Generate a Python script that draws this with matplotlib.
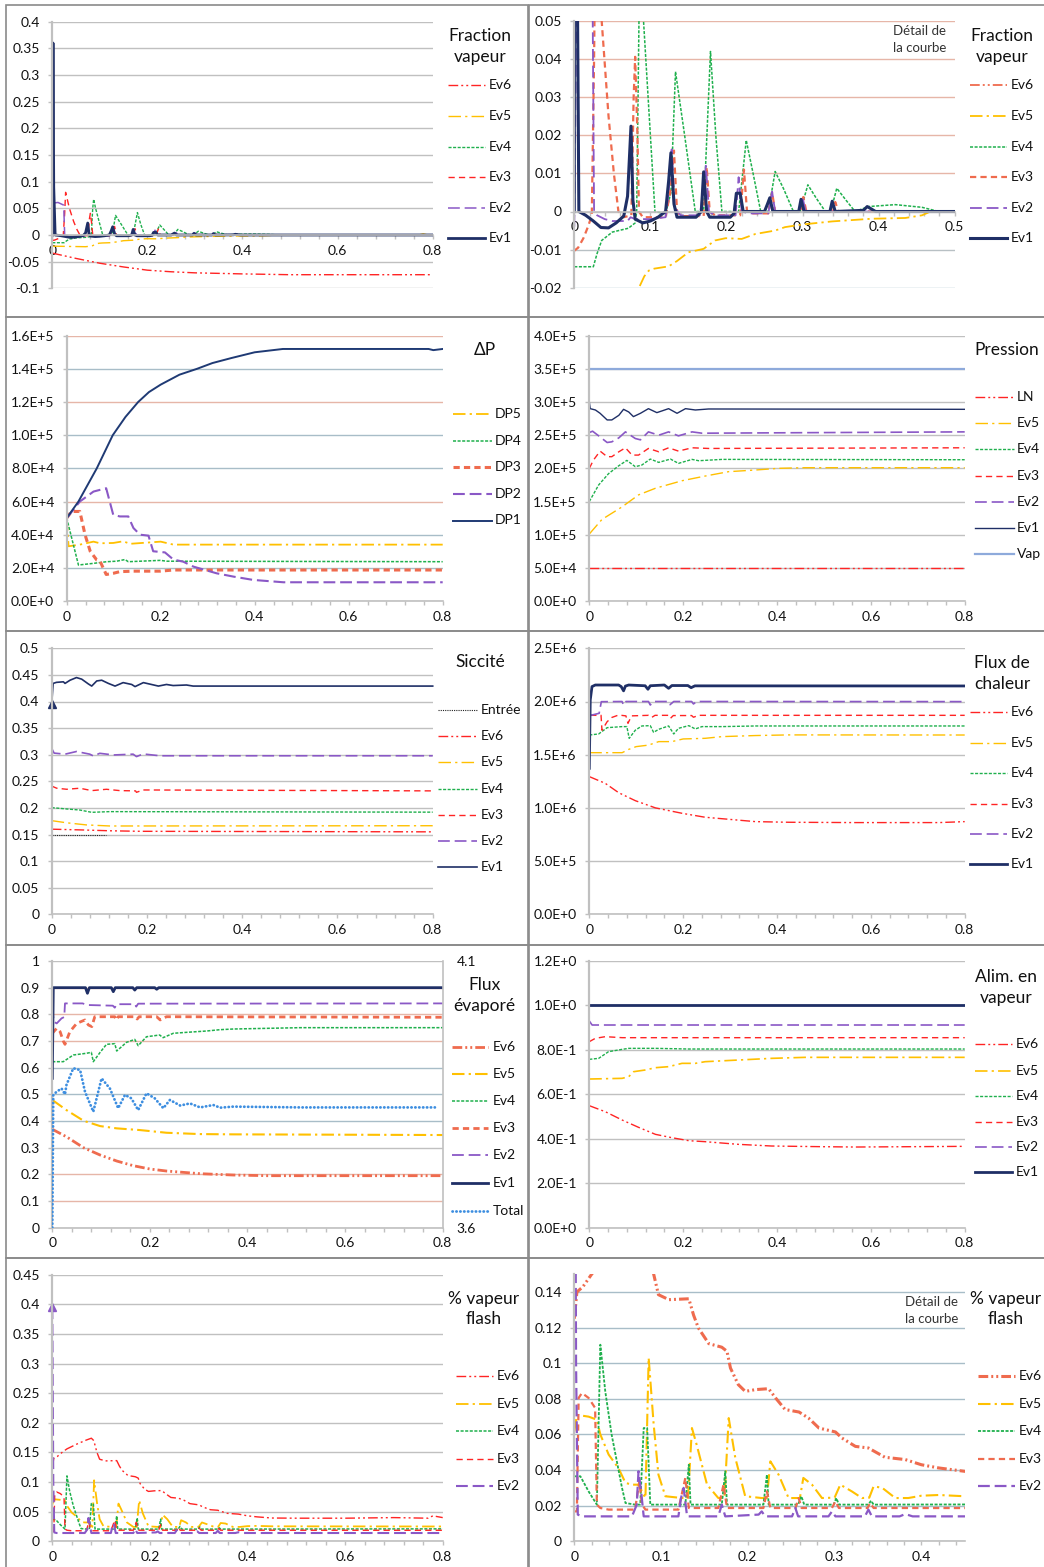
import numpy as np
import matplotlib
matplotlib.use("Agg")
import matplotlib.pyplot as plt
import matplotlib.ticker as mt
from matplotlib.lines import Line2D
from matplotlib.patches import Rectangle

plt.rcParams['font.family'] = ['Lato', 'DejaVu Sans']
plt.rcParams['lines.scale_dashes'] = False
plt.rcParams['lines.solid_joinstyle'] = 'round'
plt.rcParams['lines.dash_joinstyle'] = 'round'

# ---------------- DATA ----------------
# Fraction vapeur (panels 1 and 2 share the same series)
fv_ev6_x = [0, 0.05, 0.1, 0.15, 0.2, 0.25, 0.3, 0.35, 0.4, 0.5, 0.8]
fv_ev6_y = [-0.034, -0.044, -0.053, -0.060, -0.066, -0.069, -0.071, -0.072, -0.073, -0.0745, -0.0745]
fv_ev5_x = [0, 0.07, 0.08, 0.085, 0.092, 0.098, 0.105, 0.124, 0.135, 0.15, 0.17, 0.185, 0.199, 0.22, 0.238, 0.264, 0.277, 0.3, 0.339, 0.391, 0.435, 0.457, 0.466, 0.47, 0.77, 0.78, 0.79, 0.8]
fv_ev5_y = [-0.021, -0.022, -0.021, -0.020, -0.017, -0.0155, -0.015, -0.0144, -0.013, -0.0107, -0.0098, -0.0076, -0.007, -0.0072, -0.0059, -0.005, -0.0041, -0.0034, -0.0026, -0.0019, -0.0017, -0.001, -0.0002, 0, 0, 0.002, 0, 0]
fv_ev4_x = [0, 0.025, 0.03, 0.036, 0.05, 0.071, 0.08, 0.082, 0.085, 0.087, 0.091, 0.1, 0.106, 0.12, 0.127, 0.133, 0.145, 0.159, 0.17, 0.179, 0.186, 0.194, 0.216, 0.226, 0.235, 0.245, 0.255, 0.264, 0.275, 0.288, 0.297, 0.307, 0.318, 0.33, 0.337, 0.345, 0.357, 0.369, 0.387, 0.422, 0.457, 0.479, 0.8]
fv_ev4_y = [-0.0145, -0.0145, -0.011, -0.0076, -0.0054, -0.0044, -0.003, 0.0, 0.05, 0.067, 0.05, 0.02, 0.0, -0.0006, 0.005, 0.0367, 0.02, 0.0, 0.0, 0.042, 0.02, 0.0, 0.0, 0.0187, 0.01, 0.0, 0.0, 0.0105, 0.006, 0.0, 0.0, 0.007, 0.0035, 0.0, 0.0, 0.0061, 0.003, 0.0, 0.0013, 0.0018, 0.0011, 0.0, 0.0]
fv_ev3_x = [0, 0.005, 0.012, 0.018, 0.023, 0.026, 0.028, 0.036, 0.045, 0.052, 0.058, 0.065, 0.075, 0.078, 0.08, 0.083, 0.085, 0.09, 0.12, 0.126, 0.131, 0.135, 0.14, 0.17, 0.174, 0.178, 0.185, 0.218, 0.223, 0.227, 0.235, 0.255, 0.26, 0.264, 0.297, 0.301, 0.305, 0.34, 0.343, 0.347, 0.8]
fv_ev3_y = [-0.0103, -0.0095, -0.007, -0.004, -0.001, 0.04, 0.08, 0.05, 0.025, 0.01, 0.0, -0.0015, -0.001, 0.03, 0.0406, 0.02, 0.0, -0.0015, -0.0015, 0.005, 0.016, 0.0, -0.0012, -0.0012, 0.0117, 0.0, -0.001, -0.001, 0.011, 0.0, -0.0005, -0.0005, 0.005, 0.0, 0.0, 0.0038, 0.0, 0.0, 0.0025, 0.0, 0.0]
fv_ev2_x = [0, 0.003, 0.012, 0.024, 0.026, 0.03, 0.04, 0.05, 0.07, 0.074, 0.08, 0.1, 0.12, 0.124, 0.128, 0.132, 0.14, 0.165, 0.169, 0.173, 0.177, 0.185, 0.212, 0.216, 0.22, 0.23, 0.255, 0.26, 0.264, 0.295, 0.3, 0.304, 0.8]
fv_ev2_y = [-0.004, 0.06, 0.061, 0.056, 0.0, -0.001, -0.002, -0.0025, -0.0025, -0.0015, -0.002, -0.002, -0.0015, 0.005, 0.0163, 0.001, -0.001, -0.001, 0.005, 0.012, 0.0, -0.001, -0.001, 0.009, 0.0, -0.0005, -0.0005, 0.0052, 0.0, 0.0, 0.0038, 0.0, 0.0]
fv_ev1_x = [0, 0.0015, 0.003, 0.006, 0.015, 0.025, 0.035, 0.045, 0.055, 0.065, 0.07, 0.0745, 0.077, 0.08, 0.09, 0.1, 0.11, 0.12, 0.124, 0.127, 0.131, 0.135, 0.16, 0.167, 0.17, 0.174, 0.178, 0.205, 0.21, 0.213, 0.218, 0.222, 0.25, 0.254, 0.257, 0.261, 0.295, 0.298, 0.302, 0.336, 0.339, 0.343, 0.38, 0.385, 0.396, 0.8]
fv_ev1_y = [0.0, 0.36, 0.09, 0.0, -0.001, -0.0025, -0.0042, -0.0043, -0.003, -0.0012, 0.004, 0.0224, 0.003, -0.002, -0.003, -0.0025, -0.0015, 0.0, 0.008, 0.0154, 0.002, -0.0015, -0.0015, 0.0, 0.0104, 0.0, -0.0015, -0.0015, -0.0005, 0.0048, 0.0048, 0.0, 0.0, 0.002, 0.0036, 0.0, 0.0, 0.0032, 0.0, 0.0, 0.0027, 0.0, 0.0003, 0.0013, 0.0, 0.0]

# Delta P
dp1_x = [0, 0.025, 0.064, 0.098, 0.125, 0.152, 0.175, 0.2, 0.24, 0.277, 0.31, 0.35, 0.4, 0.46, 0.77, 0.78, 0.8]
dp1_y = [50e3, 60e3, 80e3, 100e3, 111e3, 120e3, 126e3, 130.5e3, 136.5e3, 140e3, 143.5e3, 146.5e3, 150e3, 152e3, 152e3, 151.3e3, 152e3]
dp2_x = [0, 0.028, 0.057, 0.084, 0.099, 0.113, 0.131, 0.142, 0.156, 0.174, 0.184, 0.209, 0.227, 0.248, 0.27, 0.319, 0.355, 0.397, 0.461, 0.8]
dp2_y = [50e3, 60e3, 66e3, 68e3, 52e3, 51e3, 51e3, 44e3, 40e3, 39.4e3, 30e3, 29.3e3, 25e3, 23.7e3, 20.7e3, 16.7e3, 14.7e3, 12.7e3, 11.3e3, 11.3e3]
dp3_x = [0, 0.01, 0.028, 0.039, 0.05, 0.064, 0.071, 0.084, 0.099, 0.113, 0.142, 0.199, 0.227, 0.8]
dp3_y = [50e3, 54e3, 54e3, 40e3, 30e3, 24.7e3, 24e3, 16e3, 16.7e3, 17.7e3, 18e3, 18e3, 18.7e3, 18.7e3]
dp4_x = [0, 0.025, 0.057, 0.085, 0.106, 0.124, 0.131, 0.199, 0.213, 0.8]
dp4_y = [50e3, 21.7e3, 22.7e3, 23.7e3, 24e3, 25e3, 23.7e3, 24.5e3, 24e3, 23.7e3]
dp5_x = [0, 0.004, 0.028, 0.057, 0.071, 0.099, 0.12, 0.135, 0.2, 0.227, 0.8]
dp5_y = [50e3, 33e3, 34e3, 35.8e3, 34.8e3, 35e3, 36e3, 34.5e3, 35.8e3, 34e3, 34e3]

# Pression
pr_vap_x = [0, 0.8]
pr_vap_y = [350e3, 350e3]
pr_ln_x = [0, 0.8]
pr_ln_y = [50e3, 50e3]
pr_ev1_x = [0, 0.002, 0.013, 0.023, 0.038, 0.048, 0.063, 0.073, 0.084, 0.094, 0.109, 0.126, 0.144, 0.169, 0.187, 0.205, 0.226, 0.254, 0.8]
pr_ev1_y = [300e3, 290e3, 288e3, 283e3, 273e3, 273e3, 280e3, 289e3, 285e3, 278e3, 283e3, 290e3, 284e3, 290e3, 283e3, 290e3, 288e3, 289.5e3, 289e3]
pr_ev2_x = [0, 0.007, 0.02, 0.038, 0.048, 0.063, 0.077, 0.098, 0.109, 0.126, 0.148, 0.169, 0.19, 0.219, 0.24, 0.8]
pr_ev2_y = [254e3, 256e3, 249e3, 239e3, 240e3, 246e3, 255e3, 245e3, 243e3, 255e3, 250e3, 255e3, 249e3, 255e3, 253e3, 255e3]
pr_ev3_x = [0, 0.009, 0.023, 0.038, 0.048, 0.063, 0.077, 0.091, 0.105, 0.126, 0.148, 0.169, 0.19, 0.219, 0.254, 0.8]
pr_ev3_y = [200e3, 212.6e3, 226e3, 217.6e3, 217.6e3, 225e3, 231e3, 220e3, 220e3, 230e3, 225e3, 231e3, 226e3, 231e3, 230e3, 231e3]
pr_ev4_x = [0, 0.02, 0.041, 0.063, 0.08, 0.098, 0.112, 0.13, 0.148, 0.173, 0.19, 0.219, 0.233, 0.283, 0.8]
pr_ev4_y = [150e3, 175e3, 192e3, 204e3, 212e3, 202.5e3, 205e3, 214e3, 209e3, 214e3, 207.5e3, 213.5e3, 211.5e3, 213.5e3, 213e3]
pr_ev5_x = [0, 0.027, 0.07, 0.105, 0.141, 0.198, 0.247, 0.297, 0.354, 0.403, 0.46, 0.8]
pr_ev5_y = [101e3, 123e3, 142e3, 160e3, 170e3, 181.4e3, 188.4e3, 195e3, 197.5e3, 200e3, 201e3, 201e3]

# Siccite
sc_ent_x = [0, 0.114]
sc_ent_y = [0.15, 0.15]
sc_ev6_x = [0, 0.066, 0.122, 0.185, 0.8]
sc_ev6_y = [0.16, 0.1585, 0.157, 0.156, 0.155]
sc_ev5_x = [0, 0.0315, 0.073, 0.1225, 0.8]
sc_ev5_y = [0.176, 0.172, 0.168, 0.166, 0.1665]
sc_ev4_x = [0, 0.0315, 0.059, 0.084, 0.122, 0.8]
sc_ev4_y = [0.2005, 0.198, 0.196, 0.1917, 0.193, 0.192]
sc_ev3_x = [0, 0.0105, 0.0315, 0.059, 0.084, 0.115, 0.143, 0.176, 0.178, 0.192, 0.8]
sc_ev3_y = [0.241, 0.237, 0.235, 0.237, 0.2325, 0.235, 0.2325, 0.232, 0.2293, 0.2337, 0.232]
sc_ev2_x = [0, 0.005, 0.028, 0.052, 0.08, 0.0875, 0.101, 0.13, 0.171, 0.178, 0.192, 0.227, 0.8]
sc_ev2_y = [0.312, 0.303, 0.301, 0.306, 0.301, 0.2976, 0.3026, 0.2995, 0.301, 0.2964, 0.3014, 0.298, 0.298]
sc_ev1_x = [0, 0.003, 0.01, 0.0245, 0.028, 0.0385, 0.052, 0.063, 0.077, 0.084, 0.0945, 0.105, 0.119, 0.133, 0.15, 0.168, 0.175, 0.1925, 0.224, 0.241, 0.255, 0.283, 0.297, 0.8]
sc_ev1_y = [0.3953, 0.434, 0.436, 0.437, 0.434, 0.44, 0.445, 0.442, 0.433, 0.429, 0.4386, 0.44, 0.434, 0.429, 0.4355, 0.432, 0.428, 0.4355, 0.429, 0.432, 0.43, 0.431, 0.429, 0.429]

# Flux de chaleur
fc_ev1_x = [0, 0.002, 0.0057, 0.0128, 0.0625, 0.068, 0.073, 0.077, 0.084, 0.119, 0.125, 0.13, 0.16, 0.169, 0.176, 0.21, 0.217, 0.225, 0.8]
fc_ev1_y = [1.372e6, 2.014e6, 2.14e6, 2.155e6, 2.155e6, 2.14e6, 2.10e6, 2.145e6, 2.155e6, 2.148e6, 2.115e6, 2.148e6, 2.155e6, 2.124e6, 2.15e6, 2.15e6, 2.13e6, 2.147e6, 2.146e6]
fc_ev2_x = [0, 0.0057, 0.021, 0.0256, 0.0697, 0.073, 0.078, 0.126, 0.13, 0.137, 0.169, 0.172, 0.18, 0.218, 0.222, 0.229, 0.8]
fc_ev2_y = [1.873e6, 1.873e6, 1.889e6, 1.998e6, 2.0e6, 1.967e6, 2.0e6, 2.0e6, 1.967e6, 2.0e6, 2.0e6, 1.97e6, 2.0e6, 2.0e6, 1.977e6, 2.0e6, 1.999e6]
fc_ev3_x = [0.002, 0.025, 0.027, 0.038, 0.048, 0.0625, 0.078, 0.0824, 0.09, 0.126, 0.133, 0.14, 0.169, 0.173, 0.179, 0.218, 0.222, 0.233, 0.8]
fc_ev3_y = [1.87e6, 1.87e6, 1.73e6, 1.81e6, 1.85e6, 1.873e6, 1.865e6, 1.795e6, 1.865e6, 1.87e6, 1.85e6, 1.87e6, 1.87e6, 1.842e6, 1.868e6, 1.868e6, 1.852e6, 1.87e6, 1.87e6]
fc_ev4_x = [0, 0.02, 0.038, 0.07, 0.08, 0.085, 0.098, 0.112, 0.13, 0.137, 0.148, 0.169, 0.18, 0.19, 0.212, 0.226, 0.24, 0.283, 0.354, 0.8]
fc_ev4_y = [1.685e6, 1.695e6, 1.754e6, 1.764e6, 1.764e6, 1.654e6, 1.73e6, 1.77e6, 1.773e6, 1.71e6, 1.739e6, 1.77e6, 1.695e6, 1.748e6, 1.773e6, 1.742e6, 1.764e6, 1.764e6, 1.77e6, 1.77e6]
fc_ev5_x = [0, 0.07, 0.084, 0.1, 0.126, 0.148, 0.176, 0.2, 0.247, 0.283, 0.354, 0.425, 0.8]
fc_ev5_y = [1.519e6, 1.519e6, 1.55e6, 1.576e6, 1.59e6, 1.623e6, 1.623e6, 1.648e6, 1.654e6, 1.67e6, 1.68e6, 1.686e6, 1.685e6]
fc_ev6_x = [0, 0.034, 0.0625, 0.098, 0.141, 0.198, 0.247, 0.297, 0.354, 0.425, 0.567, 0.745, 0.8]
fc_ev6_y = [1.294e6, 1.231e6, 1.143e6, 1.068e6, 1.0e6, 0.949e6, 0.912e6, 0.893e6, 0.871e6, 0.865e6, 0.862e6, 0.862e6, 0.871e6]

# Flux evapore
fe_ev1_x = [0, 0.002, 0.068, 0.072, 0.076, 0.121, 0.125, 0.129, 0.165, 0.169, 0.173, 0.21, 0.214, 0.218, 0.8]
fe_ev1_y = [0.56, 0.9, 0.9, 0.879, 0.9, 0.9, 0.885, 0.9, 0.9, 0.891, 0.9, 0.9, 0.894, 0.9, 0.9]
fe_ev2_x = [0, 0.003, 0.009, 0.019, 0.0245, 0.026, 0.062, 0.072, 0.124, 0.128, 0.132, 0.169, 0.172, 0.176, 0.8]
fe_ev2_y = [0.83, 0.7725, 0.766, 0.785, 0.79, 0.841, 0.841, 0.835, 0.8325, 0.825, 0.838, 0.838, 0.829, 0.84, 0.841]
fe_ev3_x = [0, 0.009, 0.016, 0.023, 0.026, 0.036, 0.05, 0.067, 0.074, 0.081, 0.087, 0.128, 0.131, 0.135, 0.17, 0.174, 0.178, 0.214, 0.221, 0.234, 0.8]
fe_ev3_y = [0.729, 0.7475, 0.735, 0.6975, 0.6875, 0.735, 0.766, 0.779, 0.76, 0.754, 0.791, 0.791, 0.779, 0.791, 0.791, 0.7825, 0.791, 0.791, 0.779, 0.791, 0.789]
fe_ev4_x = [0, 0.0225, 0.043, 0.07, 0.08, 0.084, 0.098, 0.111, 0.128, 0.132, 0.152, 0.169, 0.176, 0.193, 0.22, 0.227, 0.248, 0.275, 0.316, 0.344, 0.371, 0.44, 0.508, 0.8]
fe_ev4_y = [0.6225, 0.6225, 0.6475, 0.654, 0.6575, 0.6225, 0.6575, 0.6875, 0.69, 0.6625, 0.695, 0.706, 0.6825, 0.716, 0.7225, 0.7125, 0.729, 0.7325, 0.7375, 0.7425, 0.745, 0.7475, 0.75, 0.75]
fe_ev5_x = [0, 0.029, 0.064, 0.098, 0.132, 0.18, 0.234, 0.303, 0.371, 0.8]
fe_ev5_y = [0.479, 0.441, 0.401, 0.381, 0.3725, 0.366, 0.356, 0.351, 0.35, 0.3475]
fe_ev6_x = [0, 0.029, 0.064, 0.098, 0.132, 0.166, 0.2, 0.234, 0.303, 0.371, 0.44, 0.8]
fe_ev6_y = [0.369, 0.341, 0.3, 0.2725, 0.25, 0.2325, 0.22, 0.2125, 0.2025, 0.1975, 0.195, 0.195]
fe_tot_x = [0, 0.002, 0.009, 0.019, 0.026, 0.029, 0.043, 0.057, 0.067, 0.084, 0.101, 0.118, 0.135, 0.149, 0.162, 0.176, 0.193, 0.21, 0.2275, 0.241, 0.262, 0.282, 0.303, 0.33, 0.344, 0.371, 0.51, 0.784]
fe_tot_y = [3.6, 3.849, 3.855, 3.861, 3.85, 3.8675, 3.899, 3.8955, 3.855, 3.8175, 3.88, 3.861, 3.824, 3.849, 3.8425, 3.8205, 3.852, 3.8425, 3.824, 3.8395, 3.829, 3.833, 3.8255, 3.83, 3.825, 3.827, 3.8255, 3.8255]

# Alimentation en vapeur
av_ev1_x = [0, 0.8]
av_ev1_y = [1.0, 1.0]
av_ev2_x = [0, 0.006, 0.8]
av_ev2_y = [0.93, 0.912, 0.912]
av_ev3_x = [0, 0.0128, 0.034, 0.07, 0.8]
av_ev3_y = [0.837, 0.852, 0.8595, 0.855, 0.855]
av_ev4_x = [0, 0.02, 0.041, 0.07, 0.084, 0.141, 0.212, 0.8]
av_ev4_y = [0.7575, 0.762, 0.792, 0.8025, 0.807, 0.807, 0.804, 0.804]
av_ev5_x = [0, 0.07, 0.084, 0.0945, 0.119, 0.141, 0.169, 0.1975, 0.226, 0.247, 0.318, 0.389, 0.46, 0.8]
av_ev5_y = [0.669, 0.672, 0.6795, 0.702, 0.7095, 0.72, 0.7245, 0.7395, 0.7395, 0.747, 0.7545, 0.762, 0.7665, 0.7665]
av_ev6_x = [0, 0.034, 0.07, 0.105, 0.141, 0.176, 0.212, 0.247, 0.318, 0.389, 0.496, 0.567, 0.8]
av_ev6_y = [0.549, 0.522, 0.4845, 0.4515, 0.42, 0.405, 0.3915, 0.387, 0.375, 0.3675, 0.3645, 0.363, 0.366]

# % vapeur flash (panels 9 and 10 share the same series)
vf_ev6_x = [0, 0.003, 0.01, 0.02, 0.03, 0.05, 0.07, 0.08, 0.085, 0.0915, 0.097, 0.109, 0.132, 0.1375, 0.143, 0.155, 0.17, 0.176, 0.18, 0.189, 0.197, 0.209, 0.224, 0.232, 0.243, 0.259, 0.27, 0.282, 0.301, 0.3085, 0.324, 0.339, 0.358, 0.3815, 0.4, 0.42, 0.45, 0.5, 0.6, 0.7, 0.77, 0.78, 0.8]
vf_ev6_y = [0.125, 0.14, 0.143, 0.15, 0.156, 0.164, 0.171, 0.174, 0.17, 0.15, 0.1385, 0.1357, 0.1362, 0.127, 0.1198, 0.111, 0.109, 0.1067, 0.0973, 0.088, 0.0842, 0.0852, 0.0857, 0.0805, 0.074, 0.0726, 0.0692, 0.0636, 0.0614, 0.058, 0.0533, 0.0524, 0.0472, 0.0459, 0.043, 0.0412, 0.0393, 0.039, 0.039, 0.04, 0.039, 0.043, 0.04]
vf_ev5_x = [0, 0.003, 0.0165, 0.026, 0.03, 0.0396, 0.051, 0.059, 0.0665, 0.074, 0.082, 0.0857, 0.0915, 0.097, 0.105, 0.124, 0.131, 0.1356, 0.141, 0.153, 0.166, 0.173, 0.178, 0.1856, 0.197, 0.216, 0.222, 0.226, 0.2355, 0.247, 0.26, 0.264, 0.274, 0.2855, 0.3, 0.3066, 0.32, 0.3316, 0.34, 0.345, 0.355, 0.37, 0.385, 0.4, 0.42, 0.45, 0.8]
vf_ev5_y = [0.0617, 0.071, 0.070, 0.0683, 0.06, 0.0487, 0.041, 0.0328, 0.0318, 0.0318, 0.0243, 0.103, 0.0655, 0.0374, 0.0253, 0.0243, 0.0243, 0.0636, 0.0543, 0.0318, 0.0243, 0.0243, 0.0692, 0.0468, 0.0253, 0.0243, 0.0243, 0.0449, 0.0374, 0.0243, 0.0243, 0.0356, 0.0318, 0.0243, 0.0245, 0.0318, 0.028, 0.0243, 0.0245, 0.0309, 0.03, 0.0243, 0.0243, 0.0256, 0.026, 0.0253, 0.025]
vf_ev4_x = [0, 0.007, 0.0165, 0.026, 0.03, 0.0357, 0.043, 0.055, 0.059, 0.07, 0.076, 0.08, 0.084, 0.0876, 0.128, 0.132, 0.134, 0.17, 0.174, 0.176, 0.218, 0.222, 0.224, 0.258, 0.2617, 0.265, 0.299, 0.302, 0.305, 0.339, 0.342, 0.345, 0.8]
vf_ev4_y = [0.0365, 0.0365, 0.028, 0.0206, 0.1104, 0.0842, 0.06, 0.03, 0.0215, 0.0206, 0.0206, 0.0636, 0.0636, 0.0206, 0.0206, 0.043, 0.0206, 0.0206, 0.0393, 0.0206, 0.0206, 0.0374, 0.0206, 0.0206, 0.0253, 0.0206, 0.0206, 0.0243, 0.0206, 0.0206, 0.0228, 0.0206, 0.021]
vf_ev3_x = [0, 0.003, 0.005, 0.0088, 0.0165, 0.024, 0.026, 0.03, 0.0396, 0.07, 0.075, 0.078, 0.082, 0.12, 0.128, 0.132, 0.166, 0.172, 0.176, 0.218, 0.222, 0.226, 0.255, 0.2586, 0.262, 0.297, 0.3009, 0.305, 0.338, 0.341, 0.345, 0.8]
vf_ev3_y = [0.0168, 0.0168, 0.0805, 0.0833, 0.0805, 0.0749, 0.0206, 0.0187, 0.0178, 0.0178, 0.0337, 0.0206, 0.0178, 0.0178, 0.0356, 0.0187, 0.0187, 0.0318, 0.0187, 0.0187, 0.028, 0.0187, 0.0187, 0.0243, 0.0187, 0.0187, 0.0224, 0.0187, 0.0187, 0.0215, 0.0187, 0.0186]
vf_ev2_x = [0, 0.002, 0.004, 0.0088, 0.0665, 0.072, 0.074, 0.077, 0.08, 0.12, 0.123, 0.126, 0.13, 0.166, 0.17, 0.174, 0.2125, 0.216, 0.22, 0.251, 0.2548, 0.258, 0.293, 0.297, 0.301, 0.335, 0.339, 0.343, 0.375, 0.3815, 0.39, 0.8]
vf_ev2_y = [0.395, 0.1, 0.015, 0.014, 0.014, 0.0206, 0.0393, 0.028, 0.014, 0.014, 0.0243, 0.03, 0.014, 0.014, 0.0206, 0.014, 0.015, 0.0168, 0.014, 0.014, 0.0187, 0.014, 0.014, 0.0168, 0.014, 0.014, 0.0178, 0.014, 0.014, 0.0153, 0.014, 0.014]

# ---------------- STYLE ----------------
W, H = 1044, 1567
fig = plt.figure(figsize=(W / 100, H / 100), dpi=100)
fig.patch.set_facecolor('white')

NAVY = '#1f2f66'
NAVY2 = '#1f3a74'
PURPLE = '#8a58c6'
RED = '#ff2424'
SALMON = '#ef6b4e'
GOLD = '#ffc000'
GREEN = '#1fb04d'
VAPC = '#8eaadb'
TOTC = '#3d8ee0'
AXC = '#c0c0c0'
GRID = '#c0c0c0'
SALG = '#e6b6a8'
BLUG = '#a8bdc8'
TXT = '#111111'

TICK_FS = 10
LEG_FS = 10
TITLE_FS = 12.5
NOTE_FS = 9.5

DDD = (0, (7, 2.2, 1.4, 2.2, 1.4, 2.2))
DD = (0, (9, 3, 1.6, 3))
DOT = (0, (2.2, 1.1))
DASH = (0, (4.5, 3))
LONG = (0, (8.5, 3.5))
FINE = (0, (0.8, 0.8))
ROUND = (0, (0.2, 2.6))


def S(color, ls, lw):
    return dict(color=color, linestyle=ls, linewidth=lw)


def fx(px):
    return px / W


def fy(py):
    return 1 - py / H


def add_axes(l, r, t, b):
    return fig.add_axes([fx(l), fy(b), (r - l) / W, (b - t) / H])


def fmt_gen(v, pos=None):
    s = f"{round(v, 6):g}"
    return '0' if s == '-0' else s


def fmt_sci(v, pos=None):
    if abs(v) < 1e-12:
        return '0.0E+0'
    e = int(np.floor(np.log10(abs(v)) + 1e-9))
    m = v / 10 ** e
    return f"{m:.1f}E{'+' if e >= 0 else '-'}{abs(e)}"


def style_axes(ax, xlim, xmaj, xmin, ylim, ymaj, yfmt, gridcolors=None,
               zero_axis=False, ytop=None):
    ax.set_xlim(*xlim)
    ax.set_ylim(*ylim)
    xt = np.round(np.arange(xlim[0], xlim[1] + 1e-9, xmaj), 6)
    xm = np.round(np.arange(xlim[0], xlim[1] + 1e-9, xmin), 6)
    top = ylim[1] if ytop is None else ytop
    yt = np.arange(ylim[0], top + ymaj * 1e-3, ymaj)
    yt = np.round(yt / ymaj) * ymaj
    ax.set_xticks(xt)
    ax.set_xticks(xm, minor=True)
    ax.set_yticks(yt)
    ax.xaxis.set_major_formatter(mt.FuncFormatter(fmt_gen))
    ax.yaxis.set_major_formatter(mt.FuncFormatter(yfmt))
    ax.grid(axis='y', color=GRID, lw=1.0)
    ax.grid(axis='x', visible=False)
    if gridcolors:
        for g, c in zip(ax.yaxis.get_gridlines(), gridcolors):
            g.set_color(c)
    for s in ['top', 'right']:
        ax.spines[s].set_visible(False)
    ax.spines['left'].set_color(AXC)
    ax.spines['left'].set_linewidth(1.6)
    ax.spines['bottom'].set_color(AXC)
    ax.spines['bottom'].set_linewidth(1.2)
    if zero_axis:
        ax.spines['bottom'].set_position(('data', 0))
    ax.tick_params(axis='both', which='both', direction='out', color=AXC,
                   width=1, length=3, labelsize=TICK_FS, labelcolor=TXT)
    ax.tick_params(axis='y', pad=6)
    ax.tick_params(axis='x', pad=4)
    ax.set_axisbelow(True)
    ax.patch.set_alpha(0)


def draw_legend(entries, x0, x1, xt, ys):
    for (lab, stl), y in zip(entries, ys):
        fig.add_artist(Line2D([fx(x0), fx(x1)], [fy(y), fy(y)],
                              transform=fig.transFigure, **stl))
        fig.text(fx(xt), fy(y), lab, ha='left', va='center',
                 fontsize=LEG_FS, color=TXT)


def title(lines, cx, ys, size=TITLE_FS):
    for t, y in zip(lines, ys):
        fig.text(fx(cx), fy(y), t, ha='center', va='center',
                 fontsize=size, color=TXT)


def note(lines, rx, ys):
    for t, y in zip(lines, ys):
        fig.text(fx(rx), fy(y), t, ha='right', va='center',
                 fontsize=NOTE_FS, color='#333333')


# panel borders
rows = [5, 317, 631, 945, 1258, 1590]
for i in range(5):
    for (l, r) in [(6, 527.5), (528.5, 1070)]:
        fig.add_artist(Rectangle((fx(l), fy(rows[i + 1])), (r - l) / W,
                                 (rows[i + 1] - rows[i]) / H,
                                 transform=fig.transFigure, fill=False,
                                 ec='#8a8a8a', lw=1.2))

# ---------------- PANEL 1 : Fraction vapeur ----------------
ax = add_axes(52.3, 432.7, 21.7, 288.3)
st1 = [('Ev6', S(RED, DDD, 1.0)), ('Ev5', S(GOLD, DD, 1.0)),
       ('Ev4', S(GREEN, DOT, 1.0)), ('Ev3', S(RED, DASH, 1.0)),
       ('Ev2', S(PURPLE, LONG, 1.1)), ('Ev1', S(NAVY, '-', 2.0))]
series_fv = [(fv_ev6_x, fv_ev6_y), (fv_ev5_x, fv_ev5_y), (fv_ev4_x, fv_ev4_y),
             (fv_ev3_x, fv_ev3_y), (fv_ev2_x, fv_ev2_y), (fv_ev1_x, fv_ev1_y)]
for (xs, ys), (lab, stl) in zip(series_fv, st1):
    ax.plot(xs, ys, **stl)
style_axes(ax, (0, 0.8), 0.2, 0.04, (-0.1, 0.4), 0.05, fmt_gen, zero_axis=True)
title(['Fraction', 'vapeur'], 480, [36, 57])
draw_legend(st1, 448, 485, 489, [85, 116, 147, 177, 208, 238])

# ---------------- PANEL 2 : detail Fraction vapeur ----------------
ax = add_axes(574.3, 954.7, 21, 287.7)
st2 = [('Ev6', S(SALMON, DDD, 1.3)), ('Ev5', S(GOLD, DD, 1.3)),
       ('Ev4', S(GREEN, DOT, 1.1)), ('Ev3', S(SALMON, DASH, 1.6)),
       ('Ev2', S(PURPLE, LONG, 1.3)), ('Ev1', S(NAVY, '-', 2.2))]
for (xs, ys), (lab, stl) in zip(series_fv, st2):
    ax.plot(xs, ys, **stl)
style_axes(ax, (0, 0.5), 0.1, 0.02, (-0.02, 0.05), 0.01, fmt_gen,
           gridcolors=[BLUG, '#b8c0c4', GRID, SALG, SALG, SALG, SALG, SALG],
           zero_axis=True)
note(['Détail de', 'la courbe'], 946, [31, 48])
title(['Fraction', 'vapeur'], 1002, [36, 57])
draw_legend(st2, 970, 1007, 1011, [85, 116, 147, 177, 208, 238])

# ---------------- PANEL 3 : Delta P ----------------
ax = add_axes(66.7, 442.7, 335.7, 601)
st3 = [('DP5', S(GOLD, DD, 1.3)), ('DP4', S(GREEN, DOT, 1.1)),
       ('DP3', S(SALMON, DASH, 2.2)), ('DP2', S(PURPLE, LONG, 1.5)),
       ('DP1', S(NAVY2, '-', 1.4))]
for (xs, ys), (lab, stl) in zip([(dp5_x, dp5_y), (dp4_x, dp4_y), (dp3_x, dp3_y),
                                 (dp2_x, dp2_y), (dp1_x, dp1_y)], st3):
    ax.plot(xs, ys, **stl)
style_axes(ax, (0, 0.8), 0.2, 0.04, (0, 1.6e5), 2e4, fmt_sci,
           gridcolors=[GRID, BLUG, BLUG, SALG, BLUG, BLUG, SALG, BLUG, SALG])
title(['ΔP'], 485, [350])
draw_legend(st3, 453, 492, 495, [414, 441, 467, 494, 520.5])

# ---------------- PANEL 4 : Pression ----------------
ax = add_axes(589.3, 964.7, 335.7, 601)
st4 = [('LN', S(RED, DDD, 1.0)), ('Ev5', S(GOLD, DD, 1.0)),
       ('Ev4', S(GREEN, DOT, 1.0)), ('Ev3', S(RED, DASH, 1.0)),
       ('Ev2', S(PURPLE, LONG, 1.2)), ('Ev1', S(NAVY, '-', 1.0)),
       ('Vap', S(VAPC, '-', 1.6))]
for (xs, ys), (lab, stl) in zip([(pr_ln_x, pr_ln_y), (pr_ev5_x, pr_ev5_y),
                                 (pr_ev4_x, pr_ev4_y), (pr_ev3_x, pr_ev3_y),
                                 (pr_ev2_x, pr_ev2_y), (pr_ev1_x, pr_ev1_y),
                                 (pr_vap_x, pr_vap_y)], st4):
    ax.plot(xs, ys, **stl)
style_axes(ax, (0, 0.8), 0.2, 0.04, (0, 4e5), 5e4, fmt_sci)
title(['Pression'], 1007, [350])
draw_legend(st4, 975, 1014, 1017, [396.7, 423.3, 449.3, 475.7, 501.7, 527.7, 554])

# ---------------- PANEL 5 : Siccite ----------------
ax = add_axes(51.7, 432.7, 648.3, 914.3)
st5 = [('Entrée', S('#222222', FINE, 0.8)), ('Ev6', S(RED, DDD, 1.0)),
       ('Ev5', S(GOLD, DD, 1.0)), ('Ev4', S(GREEN, DOT, 1.0)),
       ('Ev3', S(RED, DASH, 1.0)), ('Ev2', S(PURPLE, LONG, 1.2)),
       ('Ev1', S(NAVY, '-', 1.2))]
for (xs, ys), (lab, stl) in zip([(sc_ent_x, sc_ent_y), (sc_ev6_x, sc_ev6_y),
                                 (sc_ev5_x, sc_ev5_y), (sc_ev4_x, sc_ev4_y),
                                 (sc_ev3_x, sc_ev3_y), (sc_ev2_x, sc_ev2_y)], st5[:-1]):
    ax.plot(xs, ys, **stl)
ax.plot(sc_ev1_x, sc_ev1_y, marker='^', markevery=[0], markersize=6,
        clip_on=False, **st5[-1][1])
style_axes(ax, (0, 0.8), 0.2, 0.04, (0, 0.5), 0.05, fmt_gen)
title(['Siccité'], 480, [662])
draw_legend(st5, 438, 477, 481, [710, 736, 762.3, 789, 815, 840.7, 867.3])

# ---------------- PANEL 6 : Flux de chaleur ----------------
ax = add_axes(589.3, 964.7, 648.3, 914.3)
st6 = [('Ev6', S(RED, DDD, 1.0)), ('Ev5', S(GOLD, DD, 1.0)),
       ('Ev4', S(GREEN, DOT, 1.0)), ('Ev3', S(RED, DASH, 1.0)),
       ('Ev2', S(PURPLE, LONG, 1.2)), ('Ev1', S(NAVY, '-', 2.0))]
for (xs, ys), (lab, stl) in zip([(fc_ev6_x, fc_ev6_y), (fc_ev5_x, fc_ev5_y),
                                 (fc_ev4_x, fc_ev4_y), (fc_ev3_x, fc_ev3_y),
                                 (fc_ev2_x, fc_ev2_y), (fc_ev1_x, fc_ev1_y)], st6):
    ax.plot(xs, ys, **stl)
style_axes(ax, (0, 0.8), 0.2, 0.04, (0, 2.5e6), 5e5, fmt_sci)
title(['Flux de', 'chaleur'], 1002, [663, 684])
draw_legend(st6, 970, 1007, 1011, [711.7, 742.7, 773.3, 804, 834, 864.3])

# ---------------- PANEL 7 : Flux evapore ----------------
ax = add_axes(52.3, 442.7, 961, 1227.7)
st7 = [('Ev6', S(SALMON, DDD, 2.0)), ('Ev5', S(GOLD, DD, 1.5)),
       ('Ev4', S(GREEN, DOT, 1.1)), ('Ev3', S(SALMON, DASH, 2.0)),
       ('Ev2', S(PURPLE, LONG, 1.3)), ('Ev1', S(NAVY, '-', 2.0))]
for (xs, ys), (lab, stl) in zip([(fe_ev6_x, fe_ev6_y), (fe_ev5_x, fe_ev5_y),
                                 (fe_ev4_x, fe_ev4_y), (fe_ev3_x, fe_ev3_y),
                                 (fe_ev2_x, fe_ev2_y), (fe_ev1_x, fe_ev1_y)], st7):
    ax.plot(xs, ys, **stl)
style_axes(ax, (0, 0.8), 0.2, 0.04, (0, 1.0), 0.1, fmt_gen,
           gridcolors=[GRID, SALG, SALG, GRID, BLUG, BLUG, BLUG, SALG, SALG, SALG, GRID])
axb = ax.twinx()
tot_style = dict(color=TOTC, linestyle=ROUND, linewidth=2.0, dash_capstyle='round')
axb.plot(fe_tot_x, fe_tot_y, **tot_style)
axb.set_ylim(3.6, 4.1)
axb.set_yticks([3.6, 4.1])
axb.yaxis.set_major_formatter(mt.FuncFormatter(fmt_gen))
axb.tick_params(axis='y', length=0, pad=10, labelsize=TICK_FS, labelcolor=TXT)
for s in ['top', 'left', 'bottom']:
    axb.spines[s].set_visible(False)
axb.spines['right'].set_color(AXC)
axb.spines['right'].set_linewidth(1.2)
axb.patch.set_alpha(0)
title(['Flux', 'évaporé'], 484, [985, 1005.7])
draw_legend(st7 + [('Total', tot_style)], 452, 488, 493,
            [1046.7, 1074, 1101, 1128.3, 1155, 1182.7, 1210.7])

# ---------------- PANEL 8 : Alim. en vapeur ----------------
ax = add_axes(589.3, 964.7, 961, 1227.7)
st8 = [('Ev6', S(RED, DDD, 1.0)), ('Ev5', S(GOLD, DD, 1.2)),
       ('Ev4', S(GREEN, DOT, 1.0)), ('Ev3', S(RED, DASH, 1.0)),
       ('Ev2', S(PURPLE, LONG, 1.2)), ('Ev1', S(NAVY, '-', 2.0))]
for (xs, ys), (lab, stl) in zip([(av_ev6_x, av_ev6_y), (av_ev5_x, av_ev5_y),
                                 (av_ev4_x, av_ev4_y), (av_ev3_x, av_ev3_y),
                                 (av_ev2_x, av_ev2_y), (av_ev1_x, av_ev1_y)], st8):
    ax.plot(xs, ys, **stl)
style_axes(ax, (0, 0.8), 0.2, 0.04, (0, 1.2), 0.2, fmt_sci)
title(['Alim. en', 'vapeur'], 1006, [977, 997.7])
draw_legend(st8, 975, 1012, 1016, [1044.3, 1070.7, 1096, 1121.7, 1146.7, 1172.3])

# ---------------- PANEL 9 : % vapeur flash ----------------
ax = add_axes(52.3, 442.7, 1274.7, 1541.3)
st9 = [('Ev6', S(RED, DDD, 1.0)), ('Ev5', S(GOLD, DD, 1.3)),
       ('Ev4', S(GREEN, DOT, 1.1)), ('Ev3', S(RED, DASH, 1.0)),
       ('Ev2', S(PURPLE, LONG, 1.5))]
series_vf = [(vf_ev6_x, vf_ev6_y), (vf_ev5_x, vf_ev5_y), (vf_ev4_x, vf_ev4_y),
             (vf_ev3_x, vf_ev3_y), (vf_ev2_x, vf_ev2_y)]
for (xs, ys), (lab, stl) in zip(series_vf[:-1], st9[:-1]):
    ax.plot(xs, ys, **stl)
ax.plot(vf_ev2_x, vf_ev2_y, marker='^', markevery=[0], markersize=6,
        clip_on=False, **st9[-1][1])
style_axes(ax, (0, 0.8), 0.2, 0.04, (0, 0.45), 0.05, fmt_gen)
title(['% vapeur', 'flash'], 484, [1298.7, 1319])
draw_legend(st9, 456, 493, 497, [1376.3, 1404, 1430.7, 1458.7, 1486])

# ---------------- PANEL 10 : detail % vapeur flash ----------------
ax = add_axes(574.3, 964.7, 1274.2, 1541.3)
st10 = [('Ev6', S(SALMON, DDD, 2.2)), ('Ev5', S(GOLD, DD, 1.5)),
        ('Ev4', S(GREEN, DOT, 1.3)), ('Ev3', S(SALMON, DASH, 1.6)),
        ('Ev2', S(PURPLE, LONG, 1.6))]
for (xs, ys), (lab, stl) in zip(series_vf, st10):
    ax.plot(xs, ys, **stl)
style_axes(ax, (0, 0.45), 0.1, 0.02, (0, 0.15), 0.02, fmt_gen,
           gridcolors=[BLUG] * 8, ytop=0.14)
note(['Détail de', 'la courbe'], 958, [1302, 1319])
title(['% vapeur', 'flash'], 1006, [1298.7, 1319])
draw_legend(st10, 978, 1015, 1019, [1376.3, 1404, 1430.7, 1458.7, 1486])

fig.savefig('out.png', dpi=100)
